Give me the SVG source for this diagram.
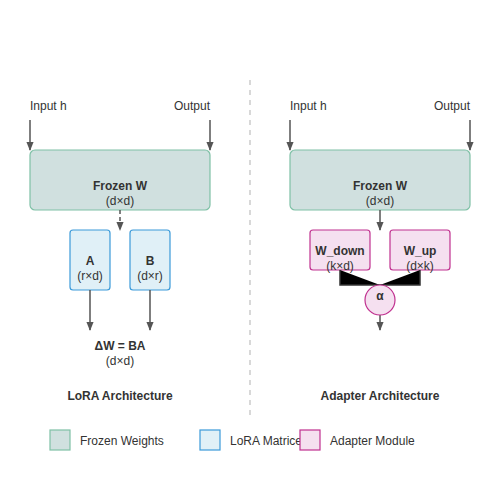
<svg xmlns="http://www.w3.org/2000/svg" width="500" height="500" viewBox="0 0 500 500">
<defs>
<marker id="arr" viewBox="0 0 10 10" refX="9" refY="5" markerWidth="6" markerHeight="6" orient="auto">
<path d="M0,1 L10,5 L0,9 z" fill="#555"/>
</marker>
<style>
text{font-family:"Liberation Sans",Arial,sans-serif;font-size:12px;fill:#333}
.b{font-weight:bold}
.m{text-anchor:middle}
.frozen{fill:#d0e0df;stroke:#7fc0a6;stroke-width:1.2}
.lora{fill:#e0f0f7;stroke:#3b9ad9;stroke-width:1.2}
.adapt{fill:#f5e0f0;stroke:#c0308f;stroke-width:1.2}
.c{stroke:#555;stroke-width:1.5;fill:none}
</style>
</defs>
<rect width="500" height="500" fill="#fff"/>
<line x1="250" y1="80" x2="250" y2="420" stroke="#ccc" stroke-width="1.5" stroke-dasharray="5,5"/>
<g id="labels">
<text x="30" y="110">Input h</text>
<text x="210" y="110" text-anchor="end">Output</text>
<text x="290" y="110">Input h</text>
<text x="470" y="110" text-anchor="end">Output</text>
<text x="120" y="350" class="b m">ΔW = BA</text>
<text x="120" y="365" class="m">(d×d)</text>
<text x="120" y="400" class="b m">LoRA Architecture</text>
<text x="380" y="400" class="b m">Adapter Architecture</text>
</g>
<g id="frozen-left">
<rect x="30" y="150" width="180" height="60" rx="5" class="frozen"/>
<text x="120" y="190" class="b m">Frozen W</text>
<text x="120" y="205" class="m">(d×d)</text>
</g>
<g id="frozen-right">
<rect x="290" y="150" width="180" height="60" rx="5" class="frozen"/>
<text x="380" y="190" class="b m">Frozen W</text>
<text x="380" y="205" class="m">(d×d)</text>
</g>
<g id="lora-a">
<rect x="70" y="230" width="40" height="60" rx="3" class="lora"/>
<text x="90" y="265" class="b m">A</text>
<text x="90" y="280" class="m">(r×d)</text>
</g>
<g id="lora-b">
<rect x="130" y="230" width="40" height="60" rx="3" class="lora"/>
<text x="150" y="265" class="b m">B</text>
<text x="150" y="280" class="m">(d×r)</text>
</g>
<g id="w-down">
<rect x="310" y="230" width="60" height="40" rx="3" class="adapt"/>
<text x="340" y="255" class="b m">W_down</text>
<text x="340" y="270" class="m">(k×d)</text>
</g>
<g id="w-up">
<rect x="390" y="230" width="60" height="40" rx="3" class="adapt"/>
<text x="420" y="255" class="b m">W_up</text>
<text x="420" y="270" class="m">(d×k)</text>
</g>
<g id="connectors">
<line x1="30" y1="120" x2="30" y2="150" class="c" marker-end="url(#arr)"/>
<line x1="210" y1="120" x2="210" y2="150" class="c" marker-end="url(#arr)"/>
<line x1="290" y1="120" x2="290" y2="150" class="c" marker-end="url(#arr)"/>
<line x1="470" y1="120" x2="470" y2="150" class="c" marker-end="url(#arr)"/>
<line x1="120" y1="210" x2="120" y2="230" class="c" stroke-dasharray="4,3" marker-end="url(#arr)"/>
<line x1="90" y1="290" x2="90" y2="330" class="c" marker-end="url(#arr)"/>
<line x1="150" y1="290" x2="150" y2="330" class="c" marker-end="url(#arr)"/>
<line x1="380" y1="210" x2="380" y2="230" class="c" marker-end="url(#arr)"/>
<path d="M340,270 L340,285 L380,285" fill="#000" stroke="#333" stroke-width="1.5"/>
<path d="M420,270 L420,285 L380,285" fill="#000" stroke="#333" stroke-width="1.5"/>
<line x1="380" y1="315" x2="380" y2="330" class="c" marker-end="url(#arr)"/>
</g>
<g id="alpha">
<circle cx="380" cy="300" r="15" class="adapt"/>
<text x="380" y="300" class="b m">α</text>
</g>
<g id="legend">
<rect x="50" y="430" width="20" height="20" class="frozen"/>
<text x="80" y="445">Frozen Weights</text>
<rect x="200" y="430" width="20" height="20" class="lora"/>
<text x="230" y="445">LoRA Matrices</text>
<rect x="300" y="430" width="20" height="20" class="adapt"/>
<text x="330" y="445">Adapter Module</text>
</g>
</svg>
